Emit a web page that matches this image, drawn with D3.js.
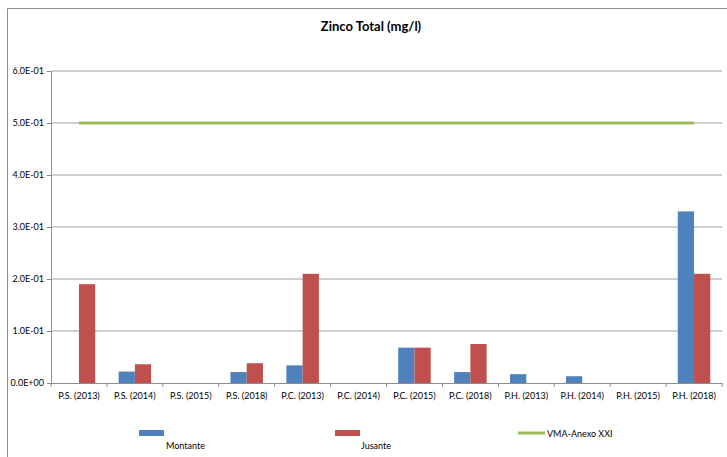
<!DOCTYPE html>
<html>
<head>
<meta charset="utf-8">
<script src="https://cdn.jsdelivr.net/npm/d3@7"></script>
<style>
  html, body { margin: 0; padding: 0; background: #fff; }
  svg { display: block; font-family: Lato, "Open Sans", sans-serif; }
</style>
</head>
<body>
<svg id="chart" width="727" height="457"></svg>
<script>
const categories = ["P.S. (2013)", "P.S. (2014)", "P.S. (2015)", "P.S. (2018)",
  "P.C. (2013)", "P.C. (2014)", "P.C. (2015)", "P.C. (2018)",
  "P.H. (2013)", "P.H. (2014)", "P.H. (2015)", "P.H. (2018)"];
const montante = [0, 0.022, 0, 0.021, 0.034, 0, 0.068, 0.021, 0.017, 0.013, 0, 0.33];
const jusante  = [0.19, 0.036, 0, 0.038, 0.21, 0, 0.068, 0.075, 0, 0, 0, 0.21];
const vma      = [0.5, 0.5, 0.5, 0.5, 0.5, 0.5, 0.5, 0.5, 0.5, 0.5, 0.5, 0.5];
const yTicks   = [0, 0.1, 0.2, 0.3, 0.4, 0.5, 0.6];
const seriesNames = ["Montante", "Jusante", "VMA-Anexo XXI"];
const colors = { montante: "#4F81BD", jusante: "#C0504D", vma: "#9BBB59" };

const svg = d3.select("#chart");
const plot = { left: 51, right: 722, top: 71, bottom: 383 };

// outer chart frame
svg.append("path")
  .attr("d", "M7.5,457 V8.5 H727")
  .attr("fill", "none").attr("stroke", "#8c8c8c").attr("stroke-width", 1);

svg.append("text")
  .attr("x", 371).attr("y", 31)
  .attr("text-anchor", "middle")
  .attr("font-weight", "bold").attr("font-size", 13)
  .attr("fill", "#000")
  .text("Zinco Total (mg/l)");

const x = d3.scaleBand().domain(categories).range([plot.left, plot.right]);
const y = d3.scaleLinear().domain([0, 0.6]).range([plot.bottom, plot.top]);
const fmt = v => v === 0 ? "0.0E+00" : d3.format(".1e")(v).replace(/e-(\d)$/, "E-0$1");

// horizontal gridlines
svg.append("g").selectAll("line").data(yTicks.filter(v => v > 0)).join("line")
  .attr("x1", plot.left).attr("x2", plot.right)
  .attr("y1", d => y(d)).attr("y2", d => y(d))
  .attr("stroke", "#bfbfbf").attr("stroke-width", 1.5);

// y axis
const yAxis = svg.append("g").attr("transform", `translate(${plot.left},0)`)
  .call(d3.axisLeft(y).tickValues(yTicks).tickFormat(fmt).tickSize(4).tickPadding(3));
yAxis.select(".domain").attr("stroke", "#8c8c8c");
yAxis.selectAll(".tick line").attr("stroke", "#8c8c8c");
yAxis.selectAll("text").attr("font-size", 9).attr("fill", "#000").attr("font-family", "Lato, 'Open Sans', sans-serif");

// bars
const inner = d3.scaleBand().domain(["montante", "jusante"])
  .range([0, x.bandwidth()]).paddingOuter(0.72);
const groups = svg.append("g").selectAll("g").data(categories).join("g")
  .attr("transform", d => `translate(${x(d)},0)`);
groups.append("rect")
  .attr("x", inner("montante")).attr("width", inner.bandwidth())
  .attr("y", (d, i) => y(montante[i])).attr("height", (d, i) => y(0) - y(montante[i]))
  .attr("fill", colors.montante);
groups.append("rect")
  .attr("x", inner("jusante")).attr("width", inner.bandwidth())
  .attr("y", (d, i) => y(jusante[i])).attr("height", (d, i) => y(0) - y(jusante[i]))
  .attr("fill", colors.jusante);

// x axis
const xAxis = svg.append("g").attr("transform", `translate(0,${plot.bottom})`)
  .call(d3.axisBottom(x).tickSize(0).tickPadding(10));
xAxis.select(".domain").attr("stroke", "#8c8c8c");
xAxis.selectAll("text").attr("font-size", 9).attr("fill", "#000").attr("font-family", "Lato, 'Open Sans', sans-serif");
xAxis.append("g").selectAll("line").data(categories).join("line")
  .attr("x1", d => x(d)).attr("x2", d => x(d)).attr("y1", 0).attr("y2", 4)
  .attr("stroke", "#8c8c8c");
xAxis.append("line").attr("x1", plot.right).attr("x2", plot.right)
  .attr("y1", 0).attr("y2", 4).attr("stroke", "#8c8c8c");

// limit value line
const line = d3.line().x((d, i) => x(categories[i]) + x.bandwidth() / 2).y(d => y(d));
svg.append("path").datum(vma).attr("d", line)
  .attr("fill", "none").attr("stroke", colors.vma).attr("stroke-width", 3);

// legend
const legend = svg.append("g").attr("font-size", 9).attr("fill", "#000");
legend.append("rect").attr("x", 139).attr("y", 430).attr("width", 25).attr("height", 6).attr("fill", colors.montante);
legend.append("text").attr("x", 166).attr("y", 449).text(seriesNames[0]);
legend.append("rect").attr("x", 335).attr("y", 430).attr("width", 25).attr("height", 6).attr("fill", colors.jusante);
legend.append("text").attr("x", 361).attr("y", 449).text(seriesNames[1]);
legend.append("line").attr("x1", 518).attr("x2", 545).attr("y1", 433).attr("y2", 433)
  .attr("stroke", colors.vma).attr("stroke-width", 3);
legend.append("text").attr("x", 547).attr("y", 436.5).text(seriesNames[2]);
</script>
</body>
</html>
